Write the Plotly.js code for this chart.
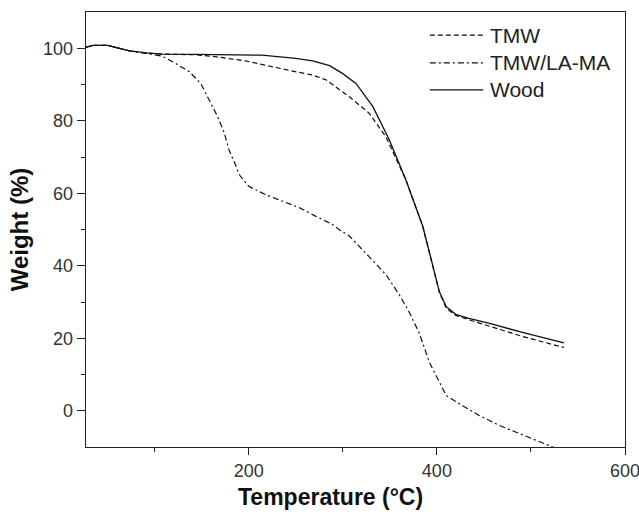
<!DOCTYPE html>
<html>
<head>
<meta charset="utf-8">
<script src="https://cdn.plot.ly/plotly-3.0.1.min.js"></script>
<style>
html,body{margin:0;padding:0;background:#fff;}
#chart{width:639px;height:514px;}
</style>
</head>
<body>
<div id="chart"></div>
<script>
// Temperature (°C) and weight (%)
const woodT = [27, 35, 50, 73, 91, 108, 144, 214, 250, 268, 286, 300, 314, 332, 349.5, 367, 385, 395.5, 402.7, 410, 420, 434, 456, 491, 530, 535];
const woodW = [100.3, 100.8, 100.8, 99.3, 98.7, 98.4, 98.3, 98.1, 97.2, 96.5, 95.2, 93.0, 90.3, 83.9, 74.7, 63.7, 50.9, 39.9, 32.8, 28.7, 26.6, 25.5, 24.1, 21.6, 19.0, 18.7];

const tmwT = [27, 35, 50, 73, 91, 108, 144, 161, 197, 232, 243, 268, 282, 307, 328, 346, 367, 385, 395.5, 402.7, 410, 420, 434, 456, 491, 530, 535];
const tmwW = [100.3, 100.8, 100.8, 99.3, 98.7, 98.4, 98.2, 97.8, 96.5, 94.4, 93.9, 92.6, 91.3, 86.6, 82.1, 75.5, 63.7, 50.9, 39.9, 32.6, 28.3, 26.3, 25.1, 23.4, 20.5, 17.8, 17.5];

const lamaT = [27, 35, 50, 73, 91, 108, 119, 137, 149, 158, 167, 174, 179, 185, 190, 200, 218, 236, 254, 271, 289, 296, 307, 328, 346, 360, 370, 381, 392, 402.7, 410, 424, 445, 466, 488, 509, 525, 535];
const lamaW = [100.3, 100.8, 100.8, 99.3, 98.6, 97.8, 96.3, 93.5, 90.3, 85.7, 81.1, 76.6, 72.0, 68.4, 65.1, 61.9, 59.6, 57.8, 56.0, 53.7, 51.4, 50.0, 48.2, 42.5, 37.5, 32.0, 27.5, 21.6, 13.4, 7.9, 4.2, 1.9, -1.3, -4.0, -6.3, -8.6, -10.2, -11];

const seriesNames = ["TMW", "TMW/LA-MA", "Wood"];
const xTickVals = [200, 400, 600];
const yTickVals = [0, 20, 40, 60, 80, 100];
const xTitle = "Temperature (°C)";
const yTitle = "Weight (%)";

const FONT = "Liberation Sans, Arial, sans-serif";
const dashes = ["5px,3px", "6px,3px,2px,3px", "solid"];
const widths = [1.2, 1.2, 1.3];

const traces = [
  {x: tmwT, y: tmwW, name: seriesNames[0], mode: "lines", line: {color: "#111", width: widths[0], dash: dashes[0]}},
  {x: lamaT, y: lamaW, name: seriesNames[1], mode: "lines", line: {color: "#111", width: widths[1], dash: dashes[1]}},
  {x: woodT, y: woodW, name: seriesNames[2], mode: "lines", line: {color: "#111", width: widths[2], dash: dashes[2]}}
];

// Custom legend (long line samples like the reference)
const legX0 = 0.638, legX1 = 0.737, legTextX = 0.746;
const legY = [0.947, 0.883, 0.821];
const shapes = seriesNames.map((n, i) => ({
  type: "line", xref: "paper", yref: "paper", x0: legX0, x1: legX1, y0: legY[i], y1: legY[i],
  line: {color: "#111", width: widths[i], dash: dashes[i]}
}));
const annotations = seriesNames.map((n, i) => ({
  xref: "paper", yref: "paper", x: legTextX, y: legY[i], xanchor: "left", yanchor: "middle",
  text: n, showarrow: false, font: {family: FONT, size: 21, color: "#222"}
}));
// x-axis title, placed slightly left of the axis centre as in the reference
annotations.push({
  xref: "paper", yref: "paper", x: 0.453, y: -0.115, xanchor: "center", yanchor: "middle",
  text: "<b>" + xTitle + "</b>", showarrow: false, font: {family: FONT, size: 23, color: "#111"}
});

const layout = {
  width: 639, height: 514,
  margin: {l: 86, r: 14, t: 12, b: 67},
  paper_bgcolor: "#fff", plot_bgcolor: "#fff",
  font: {family: FONT, color: "#222", size: 18},
  showlegend: false,
  shapes: shapes,
  annotations: annotations,
  xaxis: {
    range: [27, 600], tickvals: xTickVals, ticktext: xTickVals.map(String),
    ticks: "outside", ticklen: 7, tickwidth: 1, tickcolor: "#222",
    minor: {tickvals: [100, 300, 500], ticks: "outside", ticklen: 4, tickcolor: "#222"},
    showline: true, linecolor: "#222", linewidth: 1.3, mirror: true,
    showgrid: false, zeroline: false, ticklabeloverflow: "allow",
    tickfont: {family: FONT, size: 18, color: "#333"}
  },
  yaxis: {
    range: [-10, 110], tickvals: yTickVals, ticktext: yTickVals.map(String),
    ticks: "outside", ticklen: 8, tickwidth: 1, tickcolor: "#222",
    minor: {tickvals: [10, 30, 50, 70, 90], ticks: "outside", ticklen: 4, tickcolor: "#222"},
    showline: true, linecolor: "#222", linewidth: 1.3, mirror: true,
    showgrid: false, zeroline: false,
    tickfont: {family: FONT, size: 18, color: "#333"},
    title: {text: "<b>" + yTitle + "</b>", font: {family: FONT, size: 24, color: "#111"}, standoff: 7}
  }
};

Plotly.newPlot("chart", traces, layout, {displayModeBar: false, staticPlot: true});
</script>
</body>
</html>
